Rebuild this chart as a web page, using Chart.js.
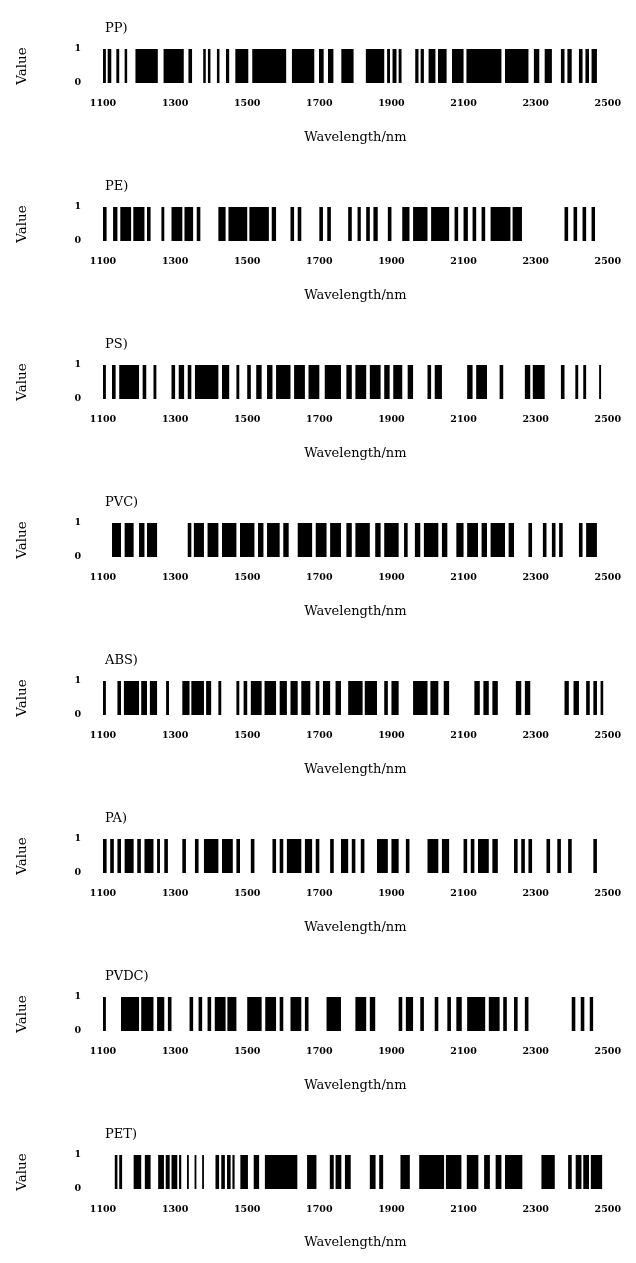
<!DOCTYPE html>
<html><head><meta charset="utf-8">
<script src="https://cdn.jsdelivr.net/npm/chart.js@4.4.0/dist/chart.umd.min.js"></script>
<style>
html,body{margin:0;padding:0;background:#fff;}
.p{width:636px;height:158px;position:relative;}
</style></head><body>
<div id="wrap"></div>
<script>
// Tick labels
const xTicks = [1100, 1300, 1500, 1700, 1900, 2100, 2300, 2500];
const yTicks = [0, 1];
const panelNames = ['PP', 'PE', 'PS', 'PVC', 'ABS', 'PA', 'PVDC', 'PET'];

// Selected wavelength bands (nm) where Value = 1
const PP = [[1100,1108],[1113,1123],[1137,1145],[1160,1167],[1190,1252],[1268,1324],[1337,1347],[1378,1385],[1391,1398],[1416,1423],[1441,1450],[1467,1503],[1514,1608],[1624,1686],[1699,1712],[1724,1739],[1761,1795],[1829,1880],[1888,1896],[1903,1914],[1920,1928],[1966,1975],[1981,1990],[2003,2022],[2029,2053],[2068,2100],[2108,2205],[2215,2280],[2295,2310],[2325,2345],[2370,2380],[2388,2400],[2420,2430],[2438,2448],[2455,2470]];
const PE = [[1100,1110],[1128,1140],[1148,1178],[1184,1215],[1222,1232],[1262,1270],[1290,1320],[1326,1350],[1360,1370],[1420,1440],[1448,1500],[1506,1560],[1568,1580],[1620,1630],[1640,1650],[1700,1710],[1722,1732],[1780,1790],[1806,1815],[1830,1840],[1850,1862],[1890,1900],[1930,1950],[1960,2000],[2010,2060],[2075,2085],[2100,2112],[2125,2135],[2150,2160],[2175,2230],[2236,2262],[2380,2390],[2405,2415],[2430,2440],[2455,2465]];
const PS = [[1100,1108],[1125,1135],[1145,1200],[1210,1220],[1240,1248],[1290,1300],[1310,1325],[1335,1345],[1355,1420],[1430,1450],[1470,1478],[1500,1510],[1525,1540],[1555,1570],[1580,1620],[1630,1660],[1670,1700],[1715,1760],[1775,1790],[1800,1830],[1840,1870],[1880,1895],[1905,1930],[1945,1960],[2000,2010],[2020,2040],[2110,2125],[2135,2165],[2200,2210],[2270,2285],[2292,2325],[2370,2380],[2410,2418],[2432,2440],[2476,2482]];
const PVC = [[1125,1150],[1160,1185],[1200,1215],[1222,1250],[1335,1345],[1352,1380],[1390,1420],[1430,1470],[1480,1520],[1530,1545],[1555,1590],[1600,1615],[1640,1680],[1690,1720],[1730,1760],[1775,1790],[1800,1840],[1855,1870],[1880,1920],[1935,1945],[1965,1980],[1990,2030],[2040,2055],[2080,2100],[2110,2140],[2150,2165],[2175,2215],[2225,2240],[2280,2290],[2320,2330],[2345,2355],[2365,2375],[2420,2430],[2440,2470]];
const ABS = [[1100,1108],[1140,1150],[1158,1200],[1206,1222],[1230,1250],[1275,1283],[1320,1340],[1345,1380],[1386,1400],[1420,1428],[1470,1478],[1490,1500],[1510,1540],[1548,1580],[1590,1610],[1620,1640],[1650,1675],[1690,1700],[1710,1730],[1745,1760],[1780,1820],[1826,1860],[1880,1890],[1900,1920],[1960,2000],[2008,2030],[2045,2060],[2130,2145],[2155,2170],[2180,2195],[2245,2260],[2270,2285],[2380,2392],[2405,2420],[2440,2450],[2460,2470],[2480,2488]];
const PA = [[1100,1110],[1120,1130],[1140,1150],[1160,1185],[1195,1205],[1215,1240],[1250,1258],[1270,1280],[1320,1330],[1355,1365],[1380,1420],[1430,1460],[1470,1480],[1510,1520],[1570,1580],[1590,1600],[1610,1650],[1660,1680],[1690,1700],[1730,1740],[1760,1780],[1790,1800],[1815,1825],[1860,1890],[1900,1920],[1940,1950],[2000,2030],[2040,2060],[2100,2110],[2120,2130],[2140,2170],[2180,2195],[2240,2250],[2260,2270],[2280,2290],[2330,2340],[2360,2370],[2390,2400],[2460,2470]];
const PVDC = [[1100,1108],[1150,1200],[1206,1240],[1250,1270],[1280,1290],[1340,1350],[1365,1375],[1390,1400],[1410,1440],[1445,1470],[1500,1540],[1550,1580],[1590,1600],[1620,1650],[1660,1670],[1720,1760],[1800,1830],[1840,1855],[1920,1930],[1940,1960],[1980,1990],[2020,2030],[2055,2065],[2080,2095],[2110,2160],[2170,2200],[2210,2220],[2240,2250],[2270,2280],[2400,2410],[2425,2435],[2450,2460]];
const PET = [[1132,1140],[1145,1153],[1185,1206],[1216,1232],[1253,1269],[1274,1285],[1290,1306],[1311,1317],[1333,1338],[1354,1359],[1375,1380],[1412,1422],[1428,1438],[1444,1454],[1459,1465],[1481,1502],[1518,1533],[1549,1639],[1666,1692],[1729,1740],[1745,1761],[1771,1787],[1840,1856],[1866,1877],[1925,1951],[1977,2046],[2051,2094],[2109,2141],[2157,2173],[2189,2205],[2215,2263],[2316,2353],[2390,2400],[2411,2427],[2432,2448],[2453,2485]];

const panelData = [PP, PE, PS, PVC, ABS, PA, PVDC, PET];

const SERIF = '"DejaVu Serif", "Liberation Serif", serif';

const titlePlugin = {
  id: 'ptitle',
  afterDraw(chart, args, opts) {
    const {ctx, chartArea} = chart;
    ctx.save();
    ctx.font = '13px ' + SERIF;
    ctx.fillStyle = '#000';
    ctx.textAlign = 'left';
    ctx.textBaseline = 'alphabetic';
    ctx.fillText(opts.text, chartArea.left + 2, chartArea.top - 17);
    ctx.restore();
  }
};

function toSteps(bands) {
  const pts = [];
  bands.forEach(([a, b]) => { pts.push({x: a, y: 1}); pts.push({x: b, y: 0}); });
  return pts;
}

const wrap = document.getElementById('wrap');
panelNames.forEach((name, i) => {
  const div = document.createElement('div');
  div.className = 'p';
  const H = i === panelNames.length - 1 ? 157 : 158;
  div.style.height = H + 'px';
  const cv = document.createElement('canvas');
  div.appendChild(cv);
  wrap.appendChild(div);
  new Chart(cv, {
    type: 'line',
    data: {
      datasets: [{
        data: toSteps(panelData[i]),
        stepped: 'before',
        fill: 'origin',
        backgroundColor: '#000',
        borderColor: 'rgba(0,0,0,0)',
        borderWidth: 0,
        pointRadius: 0,
        tension: 0
      }]
    },
    options: {
      responsive: true,
      maintainAspectRatio: false,
      animation: false,
      events: [],
      layout: {padding: {top: 49, right: 22, left: 0, bottom: 0}},
      plugins: {
        legend: {display: false},
        tooltip: {enabled: false},
        ptitle: {text: name + ')'}
      },
      scales: {
        x: {
          type: 'linear',
          min: xTicks[0],
          max: xTicks[xTicks.length - 1],
          afterBuildTicks: s => { s.ticks = xTicks.map(v => ({value: v})); },
          afterFit: s => { s.height = H - 83; },
          grid: {display: false, drawTicks: false},
          border: {display: false},
          ticks: {
            color: '#000',
            padding: 15,
            maxRotation: 0,
            font: {family: SERIF, size: 9.5, weight: 'bold'},
            callback: v => String(v)
          },
          title: {
            display: true,
            text: 'Wavelength/nm',
            color: '#000',
            font: {family: SERIF, size: 13},
            padding: {top: 0, bottom: 13}
          }
        },
        y: {
          min: 0,
          max: 1,
          afterBuildTicks: s => { s.ticks = yTicks.map(v => ({value: v})); },
          afterFit: s => { s.width = 103; },
          grid: {display: false, drawTicks: false},
          border: {display: false},
          ticks: {
            color: '#000',
            padding: 22,
            font: {family: SERIF, size: 9.5, weight: 'bold'},
            callback: v => String(v)
          },
          title: {
            display: true,
            text: 'Value',
            color: '#000',
            font: {family: SERIF, size: 13.5},
            padding: {top: 14, bottom: 0}
          }
        }
      }
    },
    plugins: [titlePlugin]
  });
});
</script>
</body></html>
